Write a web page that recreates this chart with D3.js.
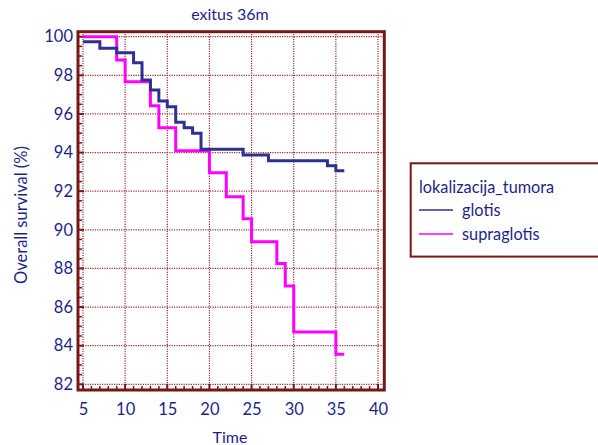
<!DOCTYPE html>
<html>
<head>
<meta charset="utf-8" />
<title>exitus 36m</title>
<script src="https://cdn.jsdelivr.net/npm/d3@7"></script>
<style>
	body { margin: 0; background: #fff; }
	svg { display: block; font-family: Lato, "Liberation Sans", sans-serif; }
</style>
</head>
<body>
<svg width="598" height="445"></svg>
<script>
// data (Kaplan-Meier steps)
const glotisTime = [5, 7, 9, 11, 12, 13, 14, 15, 16, 17, 18, 19, 24, 27, 34, 35, 36];
const glotisSurv = [99.74, 99.40, 99.17, 98.65, 97.76, 97.24, 96.67, 96.37, 95.57, 95.29, 95.00, 94.17, 93.87, 93.58, 93.32, 93.06, 93.06];

const supraTime = [5, 9, 10, 13, 14, 16, 20, 22, 24, 25, 28, 29, 30, 35, 36];
const supraSurv = [100, 98.79, 97.67, 96.43, 95.29, 94.10, 92.96, 91.71, 90.57, 89.38, 88.26, 87.09, 84.71, 83.55, 83.55];

const xTicks = [5, 10, 15, 20, 25, 30, 35, 40];
const yTicks = [82, 84, 86, 88, 90, 92, 94, 96, 98, 100];

const seriesNames = ['glotis', 'supraglotis'];
const legendTitle = 'lokalizacija_tumora';

const textColor = '#1f1f8a';
const frameColor = '#771818';
const colors = { glotis: '#2e3192', supraglotis: '#ff00ff' };

// frame of the plot
const frame = { left: 78, top: 31.7, right: 384.3, bottom: 390 };

const svg = d3.select('svg');

const x = d3.scaleLinear().domain([5, 40]).range([83, 378]);
const y = d3.scaleLinear().domain([82, 100]).range([384.3, 36.7]);

// grid
svg.append('g').selectAll('line.gx')
	.data(xTicks).enter()
	.append('line')
	.attr('x1', d => x(d)).attr('x2', d => x(d))
	.attr('y1', frame.top).attr('y2', frame.bottom)
	.attr('stroke', '#9a3030').attr('stroke-width', 1.2)
	.attr('stroke-dasharray', '1.2,1.2');

svg.append('g').selectAll('line.gy')
	.data(yTicks).enter()
	.append('line')
	.attr('x1', frame.left).attr('x2', frame.right)
	.attr('y1', d => y(d)).attr('y2', d => y(d))
	.attr('stroke', '#9a3030').attr('stroke-width', 1.2)
	.attr('stroke-dasharray', '1.2,1.2');

// minor ticks, pointing inside
const xMinor = d3.range(5, 41, 1);
svg.append('g').selectAll('line')
	.data(xMinor).enter()
	.append('line')
	.attr('x1', d => x(d)).attr('x2', d => x(d))
	.attr('y1', frame.bottom)
	.attr('y2', d => frame.bottom - (d % 5 === 0 ? 6 : 4))
	.attr('stroke', frameColor)
	.attr('stroke-width', d => d % 5 === 0 ? 2 : 1.5);

const yMinor = d3.range(82, 100.01, 0.5);
svg.append('g').selectAll('line')
	.data(yMinor).enter()
	.append('line')
	.attr('x1', frame.left)
	.attr('x2', d => frame.left + (d % 2 === 0 ? 6 : 4))
	.attr('y1', d => y(d)).attr('y2', d => y(d))
	.attr('stroke', frameColor)
	.attr('stroke-width', d => d % 2 === 0 ? 2 : 1.5);

// lines
const stepLine = d3.line()
	.x(d => x(d[0]))
	.y(d => y(d[1]))
	.curve(d3.curveStepAfter);

svg.append('path')
	.attr('d', stepLine(d3.zip(supraTime, supraSurv)))
	.attr('fill', 'none')
	.attr('stroke', colors.supraglotis)
	.attr('stroke-width', 3);

svg.append('path')
	.attr('d', stepLine(d3.zip(glotisTime, glotisSurv)))
	.attr('fill', 'none')
	.attr('stroke', colors.glotis)
	.attr('stroke-width', 3);

// frame
svg.append('rect')
	.attr('x', frame.left).attr('y', frame.top)
	.attr('width', frame.right - frame.left)
	.attr('height', frame.bottom - frame.top)
	.attr('fill', 'none')
	.attr('stroke', frameColor)
	.attr('stroke-width', 3);

// axis labels
const xAxis = d3.axisBottom(x).tickValues(xTicks).tickSize(0).tickPadding(0);
const xg = svg.append('g').attr('transform', 'translate(0,' + 403.5 + ')').call(xAxis);
xg.select('.domain').remove();
xg.selectAll('text').attr('fill', textColor).style('font-size', '16.5px').attr('dy', '0.71em')
	.style('font-family', 'Lato, sans-serif');

const yAxis = d3.axisLeft(y).tickValues(yTicks).tickSize(0).tickPadding(0);
const yg = svg.append('g').attr('transform', 'translate(' + 73 + ',0)').call(yAxis);
yg.select('.domain').remove();
yg.selectAll('text').attr('fill', textColor).style('font-size', '16.5px')
	.style('font-family', 'Lato, sans-serif');

// titles
svg.append('text')
	.attr('x', 230).attr('y', 20)
	.attr('text-anchor', 'middle')
	.attr('fill', textColor)
	.style('font-size', '16px')
	.text('exitus 36m');

svg.append('text')
	.attr('x', 230).attr('y', 443)
	.attr('text-anchor', 'middle')
	.attr('fill', textColor)
	.style('font-size', '16px')
	.text('Time');

svg.append('text')
	.attr('transform', 'translate(26.5,215) rotate(-90)')
	.attr('text-anchor', 'middle')
	.attr('fill', textColor)
	.style('font-size', '16.5px')
	.text('Overall survival (%)');

// legend
const legend = svg.append('g');
legend.append('rect')
	.attr('x', 410.7).attr('y', 163.3)
	.attr('width', 200).attr('height', 93.3)
	.attr('fill', '#fff')
	.attr('stroke', frameColor)
	.attr('stroke-width', 2);

legend.append('text')
	.attr('x', 419).attr('y', 193)
	.attr('fill', textColor)
	.style('font-size', '16.3px')
	.text(legendTitle);

const items = legend.selectAll('g.item')
	.data(seriesNames).enter()
	.append('g')
	.attr('transform', (d, i) => 'translate(0,' + (210 + i * 24) + ')');

items.append('line')
	.attr('x1', 419).attr('x2', 453)
	.attr('stroke', d => colors[d])
	.attr('stroke-width', 1.5);

items.append('text')
	.attr('x', 462).attr('y', 5.5)
	.attr('fill', textColor)
	.style('font-size', '16.3px')
	.text(d => d);
</script>
</body>
</html>
